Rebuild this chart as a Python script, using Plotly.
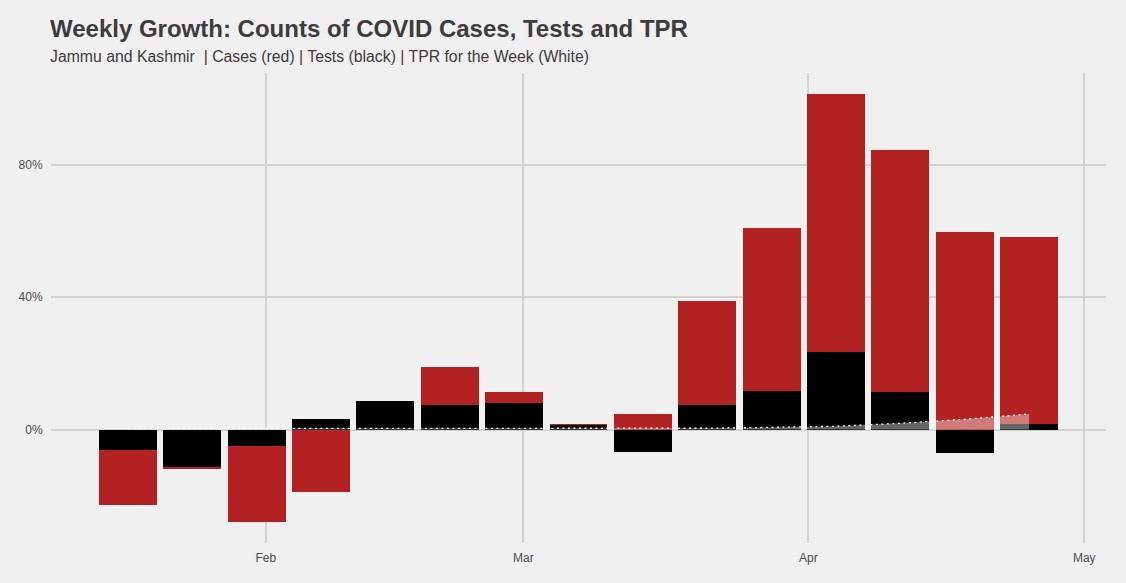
import plotly.graph_objects as go
import pandas as pd

# Week centres
weeks = pd.date_range("2021-01-17", periods=15, freq="7D")

# Weekly growth (%)
cases_growth = [-22.7, -12.0, -27.8, -19.0, 5.0, 19.0, 11.2, 1.8, 4.8, 38.7, 61.0, 101.2, 84.3, 59.5, 58.0]
tests_growth = [-6.3, -11.2, -5.1, 3.3, 8.5, 7.3, 7.9, 1.5, -6.9, 7.3, 11.5, 23.3, 11.2, -7.0, 1.8]
# Test positivity rate for the week (%)
tpr_week = [0.35, 0.35, 0.35, 0.3, 0.3, 0.3, 0.3, 0.35, 0.35, 0.4, 0.65, 1.0, 1.9, 3.1, 4.7]

y_tick_vals = [0, 40, 80]
y_tick_text = ["0%", "40%", "80%"]

title_text = "Weekly Growth: Counts of COVID Cases, Tests and TPR"
subtitle_text = "Jammu and Kashmir\u00a0 | Cases (red) | Tests (black) | TPR for the Week (White)"

BG = "#F0F0F0"
GRID = "#D2D2D2"
TXT = "#3C3C3C"
FONT = "Liberation Sans, Arial, sans-serif"

bar_width_ms = 0.9 * 7 * 24 * 3600 * 1000

fig = go.Figure()
fig.add_trace(go.Bar(x=weeks, y=cases_growth, width=bar_width_ms,
                     marker=dict(color="#B22222", line=dict(width=0)),
                     name="Cases", hoverinfo="x+y"))
fig.add_trace(go.Bar(x=weeks, y=tests_growth, width=bar_width_ms,
                     marker=dict(color="#000000", line=dict(width=0)),
                     name="Tests", hoverinfo="x+y"))
fig.add_trace(go.Scatter(x=weeks, y=tpr_week, mode="lines", fill="tozeroy",
                         fillcolor="rgba(255,255,255,0.4)",
                         line=dict(color="white", width=1.3, dash="2px,3.5px"),
                         name="TPR"))

fig.update_layout(
    width=1126, height=583,
    paper_bgcolor=BG, plot_bgcolor=BG,
    barmode="overlay", bargap=0,
    showlegend=False,
    margin=dict(l=51, r=20, t=73, b=40),
    font=dict(family=FONT, color=TXT),
    xaxis=dict(
        type="date",
        range=["2021-01-08 15:14", "2021-05-03 08:45"],
        dtick="M1", tick0="2021-01-01", tickformat="%b",
        showgrid=True, gridcolor=GRID, gridwidth=1.5,
        zeroline=False, showline=False,
        ticks="outside", ticklen=4, tickcolor=BG,
        tickfont=dict(size=12, color="#4D4D4D", family=FONT),
    ),
    yaxis=dict(
        range=[-34.25, 107.65],
        tickmode="array", tickvals=y_tick_vals, ticktext=y_tick_text,
        showgrid=True, gridcolor=GRID, gridwidth=1.5,
        zeroline=False, showline=False,
        ticks="outside", ticklen=5, tickcolor=BG,
        tickfont=dict(size=12, color="#4D4D4D", family=FONT),
    ),
    annotations=[
        dict(text="<b>" + title_text + "</b>", xref="paper", yref="paper",
             x=0, y=(543 - 28) / 470.0, xanchor="left", yanchor="middle",
             xshift=-3, showarrow=False, font=dict(size=24, color=TXT, family=FONT)),
        dict(text=subtitle_text, xref="paper", yref="paper",
             x=0, y=(543 - 57) / 470.0, xanchor="left", yanchor="middle",
             xshift=-3, showarrow=False, font=dict(size=15.8, color=TXT, family=FONT)),
    ],
)

fig.write_html("out.html",
               config={"displayModeBar": False},
               post_script="document.body.style.margin='0';document.body.style.padding='0';"
                           "document.body.style.background='#F0F0F0';")
